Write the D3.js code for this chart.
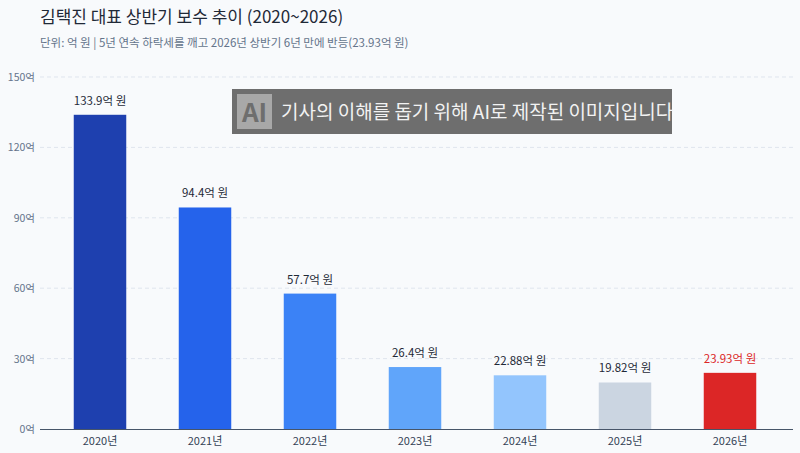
<!DOCTYPE html>
<html><head><meta charset="utf-8">
<script src="https://cdn.jsdelivr.net/npm/d3@7"></script>
<style>body{margin:0;background:#f8fafc;font-family:"Noto Sans CJK KR","Noto Sans",sans-serif}</style>
</head><body><svg id="c" width="800" height="453"></svg>
<script>
const years=["2020년","2021년","2022년","2023년","2024년","2025년","2026년"];
const values=[133.9,94.4,57.7,26.4,22.88,19.82,23.93];
const labels=["133.9억 원","94.4억 원","57.7억 원","26.4억 원","22.88억 원","19.82억 원","23.93억 원"];
const colors=["#1e40af","#2563eb","#3b82f6","#60a5fa","#93c5fd","#cbd5e1","#dc2626"];
const ticks=[0,30,60,90,120,150];
const svg=d3.select("#c");
svg.append("rect").attr("width",800).attr("height",453).attr("fill","#f8fafc");
const x=d3.scaleBand().domain(years).range([47.5,782.5]).paddingInner(0.5).paddingOuter(0.25);
const y=d3.scaleLinear().domain([0,150]).range([429,77]);
svg.append("text").attr("x",40).attr("y",23).attr("font-size",17).attr("fill","#1f2937").text("김택진 대표 상반기 보수 추이 (2020~2026)");
svg.append("text").attr("x",40).attr("y",47).attr("font-size",11.5).attr("fill","#64748b").text("단위: 억 원 | 5년 연속 하락세를 깨고 2026년 상반기 6년 만에 반등(23.93억 원)");
const g=svg.append("g");
ticks.forEach(t=>{
 if(t>0) g.append("line").attr("x1",40).attr("x2",793).attr("y1",y(t)).attr("y2",y(t)).attr("stroke","#dfe5ee").attr("stroke-dasharray","4,3");
 g.append("text").attr("x",35).attr("y",y(t)+4).attr("text-anchor","end").attr("font-size",10.5).attr("fill","#64748b").text(t+"억");
});
g.selectAll(".b").data(values).join("rect").attr("x",(d,i)=>x(years[i])).attr("width",x.bandwidth())
 .attr("y",d=>y(d)).attr("height",d=>y(0)-y(d)).attr("fill",(d,i)=>colors[i]);
g.selectAll(".l").data(values).join("text").attr("x",(d,i)=>x(years[i])+x.bandwidth()/2).attr("y",d=>y(d)-10)
 .attr("text-anchor","middle").attr("font-size",11.5).attr("fill",(d,i)=>i==6?"#dc2626":"#1f2937").text((d,i)=>labels[i]);
svg.append("line").attr("x1",40).attr("x2",793).attr("y1",429.5).attr("y2",429.5).attr("stroke","#475569");
g.selectAll(".x").data(years).join("text").attr("x",d=>x(d)+x.bandwidth()/2).attr("y",445).attr("text-anchor","middle").attr("font-size",11).attr("fill","#334155").text(d=>d);
// watermark
svg.append("rect").attr("x",232).attr("y",89).attr("width",440).attr("height",45).attr("fill","#6e6e6e");
svg.append("rect").attr("x",237).attr("y",94).attr("width",35).attr("height",35).attr("fill","#a8a8a8");
svg.append("text").attr("x",254.5).attr("y",122).attr("text-anchor","middle").attr("font-size",26).attr("font-weight","bold").attr("fill","#6e6e6e").text("AI");
svg.append("text").attr("x",281).attr("y",119).attr("font-size",19).attr("fill","#f2f2f2").text("기사의 이해를 돕기 위해 AI로 제작된 이미지입니다");
</script></body></html>
